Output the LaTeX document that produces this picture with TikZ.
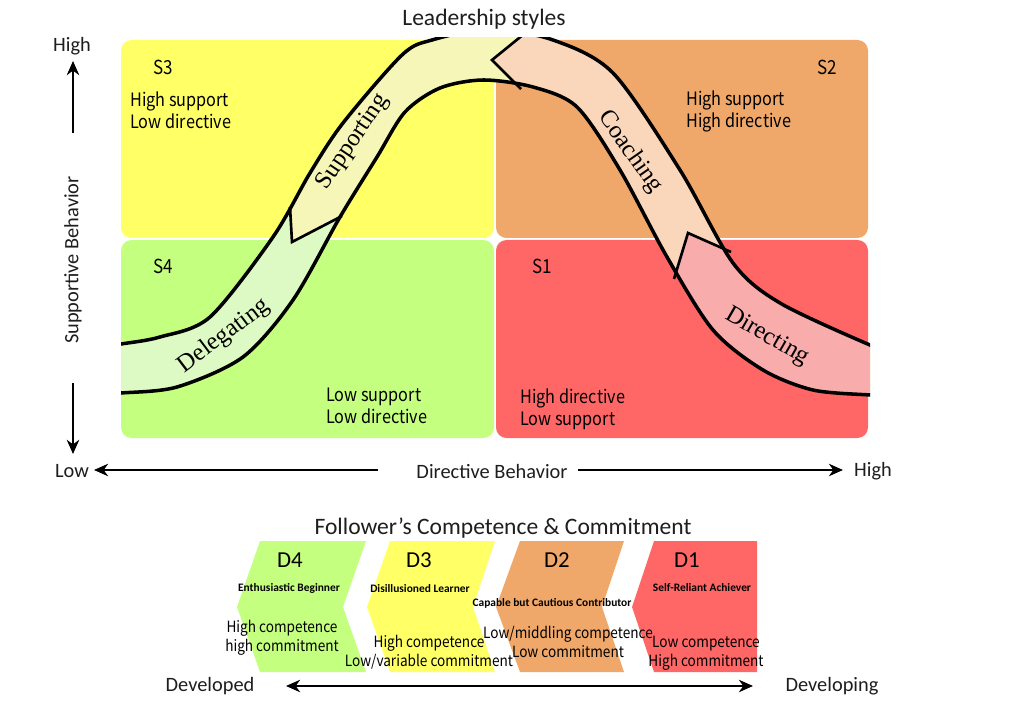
\documentclass[tikz,border=0pt]{standalone}
\usepackage{fontspec}
\setmainfont{Carlito}
\newfontfamily\jpf[FakeStretch=0.88]{Noto Sans CJK JP}
\newfontfamily\serifx{Liberation Serif}
\usetikzlibrary{arrows.meta}
\definecolor{qyel}{RGB}{255,255,102}
\definecolor{qora}{RGB}{240,168,106}
\definecolor{qgrn}{RGB}{196,255,128}
\definecolor{qred}{RGB}{255,102,102}
\definecolor{bgrn}{RGB}{221,249,196}
\definecolor{byel}{RGB}{246,246,184}
\definecolor{bora}{RGB}{250,215,186}
\definecolor{bred}{RGB}{248,172,172}
\definecolor{txt}{RGB}{30,30,30}
\tikzset{
  quad/.style={rounded corners=6pt},
  axlbl/.style={inner sep=0pt, text=txt, font=\fontsize{11.6}{14}\selectfont},
  ttl/.style={inner sep=0pt, text=txt, font=\fontsize{13.4}{16}\selectfont},
  qid/.style={inner sep=0pt, font=\jpf\fontsize{11}{13}\selectfont},
  qtxt/.style={inner sep=0pt, align=left, font=\jpf\fontsize{10.5}{12.5}\selectfont},
  bandlbl/.style={inner sep=0pt, font=\serifx\fontsize{14}{16}\selectfont},
  dlbl/.style={inner sep=0pt, font=\fontsize{13}{15}\selectfont},
  dsmall/.style={inner sep=0pt, font=\bfseries\fontsize{6.5}{7.5}\selectfont},
  dtxt/.style={inner sep=0pt, align=center, font=\jpf\fontsize{8.8}{10.8}\selectfont},
  axarrow/.style={line width=1.6pt, -{Stealth[length=8pt,width=7pt,inset=2.5pt]}},
  dblarrow/.style={line width=1.6pt, {Stealth[length=8pt,width=7pt,inset=2.5pt]}-{Stealth[length=8pt,width=7pt,inset=2.5pt]}},
  edge/.style={line width=2pt, line cap=round},
  chev/.style={line width=1.5pt, line join=miter}
}
\begin{document}
\begin{tikzpicture}[x=0.02cm,y=-0.02cm]
\useasboundingbox[fill=white] (0,0) rectangle (1024,709);
% quadrants
\fill[qyel,quad] (121,40) rectangle (494,238);
\fill[qora,quad] (496,40) rectangle (868,238);
\fill[qgrn,quad] (121,240) rectangle (494,438);
\fill[qred,quad] (496,240) rectangle (868,438);
% band
\begin{scope}
  \clip (121,38) rectangle (870,440);
  \begin{scope}
    \clip plot[smooth] coordinates {(100,347) (121,344) (160,337) (210,317) (273,237) (310,173) (343,123) (402,55) (432,40) (490,29) (553,40) (613,73) (680,170) (733,263) (780,303) (870,345) (890,350)}
      -- plot[smooth] coordinates {(890,396) (870,395) (813,390) (763,370) (713,330) (667,257) (620,170) (577,107) (533,87) (483,80) (440,88) (405,112) (377,157) (340,217) (293,300) (243,357) (177,387) (121,393) (100,394)} -- cycle;
    \fill[bgrn] (0,0) rectangle (1024,709);
    \fill[bred] (760,265) -- (688,233) -- (667,302) -- (700,460) -- (900,460) -- (900,200) -- cycle;
    \fill[byel] (288,172) -- (292,242) -- (380,196) -- (545,113) -- (492,60) -- (540,21) -- (540,0) -- (250,0) -- (200,120) -- cycle;
    \fill[bora] (540,21) -- (492,60) -- (545,113) -- (667,302) -- (688,233) -- (760,265) -- (800,0) -- (540,0) -- cycle;
  \end{scope}
  \draw[edge] plot[smooth] coordinates {(100,347) (121,344) (160,337) (210,317) (273,237) (310,173) (343,123) (402,55) (432,40) (490,29) (553,40) (613,73) (680,170) (733,263) (780,303) (870,345) (890,350)};
  \draw[edge] plot[smooth] coordinates {(100,394) (121,393) (177,387) (243,357) (293,300) (340,217) (377,157) (405,112) (440,88) (483,80) (533,87) (577,107) (620,170) (667,257) (713,330) (763,370) (813,390) (870,395) (890,396)};
  \draw[chev] (290,207) -- (292,242) -- (342,216);
  \draw[chev] (524,34) -- (492,60) -- (521,89);
  \draw[chev] (731,252) -- (688,233) -- (674,279);
\end{scope}
% band labels
\node[bandlbl, rotate=56] (lsup) at (353,142) {Supporting};
\node[bandlbl, rotate=-55] (lcoa) at (630,152) {Coaching};
\node[bandlbl, rotate=37] (ldel) at (224,336) {Delegating};
\node[bandlbl, rotate=-30] (ldir) at (767,337) {Directing};
% quadrant texts
\node[qid] (s3) at (163,67) {S3};
\node[qid] (s2) at (827,67) {S2};
\node[qid] (s4) at (163,266) {S4};
\node[qid] (s1) at (542,266) {S1};
\node[qtxt, anchor=west] (t3) at (130,110) {High support\\Low directive};
\node[qtxt, anchor=west] (t2) at (686,111) {High support\\High directive};
\node[qtxt, anchor=west] (t4) at (326,406) {Low support\\Low directive};
\node[qtxt, anchor=west] (t1) at (520,409) {High directive\\Low support};
% axes
\node[ttl] (title) at (484,19) {Leadership styles};
\node[axlbl] (hiY) at (72,46) {High};
\node[axlbl] (loY) at (72,471) {Low};
\node[axlbl, rotate=90] (supB) at (73,260) {Supportive Behavior};
\node[axlbl] (dirB) at (492,471) {Directive Behavior};
\node[axlbl] (hiX) at (873,471) {High};
\coordinate (vu0) at (73,133); \coordinate (vu1) at (73,61);
\coordinate (vd0) at (73,383); \coordinate (vd1) at (73,454);
\coordinate (hl0) at (378,470); \coordinate (hl1) at (94,470);
\coordinate (hr0) at (578,470); \coordinate (hr1) at (843,470);
\draw[axarrow] (vu0) -- (vu1);
\draw[axarrow] (vd0) -- (vd1);
\draw[axarrow] (hl0) -- (hl1);
\draw[axarrow] (hr0) -- (hr1);
% follower section
\node[ttl] (title2) at (503,528) {Follower’s Competence \& Commitment};
\fill[qgrn] (260,541) -- (366,541) -- (343,607) -- (366,672) -- (260,672) -- (237,607) -- cycle;
\fill[qyel] (390,541) -- (495,541) -- (473,607) -- (495,672) -- (390,672) -- (367,607) -- cycle;
\fill[qora] (520,541) -- (624,541) -- (602,607) -- (624,672) -- (520,672) -- (496,607) -- cycle;
\fill[qred] (654,541) -- (757,541) -- (757,672) -- (654,672) -- (632,607) -- cycle;
\node[dlbl] (d4) at (290,560) {D4};
\node[dlbl] (d3) at (419,560) {D3};
\node[dlbl] (d2) at (557,560) {D2};
\node[dlbl] (d1) at (687,560) {D1};
\node[dsmall] (d4s) at (289,588) {Enthusiastic Beginner};
\node[dsmall] (d3s) at (420,589) {Disillusioned Learner};
\node[dsmall] (d2s) at (552,603) {Capable but Cautious Contributor};
\node[dsmall] (d1s) at (702,588) {Self-Reliant Achiever};
\node[dtxt] (d4t) at (282,638) {High competence\\high commitment};
\node[dtxt] (d3t) at (429,652) {High competence\\Low/variable commitment};
\node[dtxt] (d2t) at (568,642) {Low/middling competence\\Low commitment};
\node[dtxt] (d1t) at (706,653) {Low competence\\High commitment};
\node[axlbl] (dvd) at (210,686) {Developed};
\node[axlbl] (dvg) at (832,686) {Developing};
\coordinate (ba0) at (286,686); \coordinate (ba1) at (753,686);
\draw[dblarrow] (ba0) -- (ba1);
\end{tikzpicture}
\end{document}
